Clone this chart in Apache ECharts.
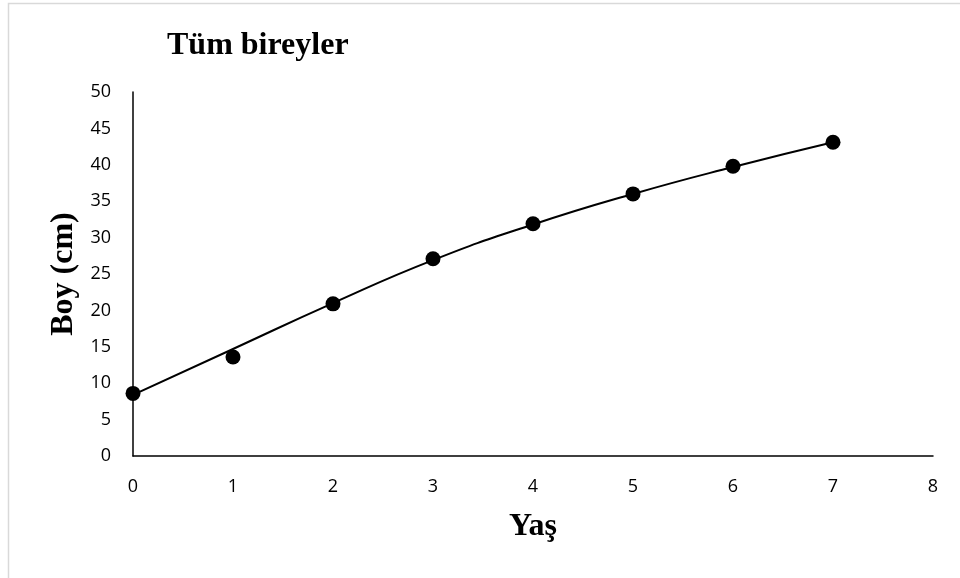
<!DOCTYPE html>
<html><head><meta charset="utf-8">
<script src="https://cdn.jsdelivr.net/npm/echarts@6/dist/echarts.min.js"></script>
<style>html,body{margin:0;padding:0;background:#fff}#c{width:960px;height:578px}</style>
</head><body><div id="c"></div>
<script>
const ages = [0, 1, 2, 3, 4, 5, 6, 7];
const observed = [8.6, 13.6, 20.9, 27.1, 31.9, 36.0, 39.8, 43.1];
const fitted = [8.4, 14.7, 21.0, 26.9, 31.8, 36.0, 39.7, 43.1];
const titleText = 'Tüm bireyler';
const xName = 'Yaş';
const yName = 'Boy (cm)';

const chart = echarts.init(document.getElementById('c'));
chart.setOption({
  animation: false,
  backgroundColor: '#fff',
  graphic: [{type:'rect', shape:{x:8.5, y:3.5, width:960, height:600}, style:{fill:'none', stroke:'#d9d9d9', lineWidth:1.5}}],
  title: {text: titleText, left: 162, top: 25, textStyle:{fontFamily:'Liberation Serif', fontWeight:'bold', fontSize:32, color:'#000'}},
  grid: {left: 133, right: 27, top: 92, bottom: 122},
  xAxis: {type:'value', min:0, max:8, interval:1, name:xName, nameLocation:'middle', nameGap:55,
    nameTextStyle:{fontFamily:'Liberation Serif', fontWeight:'bold', fontSize:32, color:'#000'},
    axisLine:{lineStyle:{color:'#000', width:1.5}}, axisTick:{show:false}, splitLine:{show:false},
    axisLabel:{fontFamily:'Open Sans', fontSize:18, color:'#000', margin:22}},
  yAxis: {type:'value', min:0, max:50, interval:5, name:yName, nameLocation:'middle', nameGap:52,
    nameTextStyle:{fontFamily:'Liberation Serif', fontWeight:'bold', fontSize:32, color:'#000'},
    axisLine:{show:true, lineStyle:{color:'#000', width:1.5}}, axisTick:{show:false}, splitLine:{show:false},
    axisLabel:{fontFamily:'Open Sans', fontSize:18, color:'#000', margin:22}},
  series: [
    {type:'line', data: ages.map((a,i)=>[a, fitted[i]]), smooth:true, symbol:'none',
     lineStyle:{color:'#000', width:2}, z:2},
    {type:'scatter', data: ages.map((a,i)=>[a, observed[i]]), symbolSize:15,
     itemStyle:{color:'#000', opacity:1}, z:3}
  ]
});
</script></body></html>
